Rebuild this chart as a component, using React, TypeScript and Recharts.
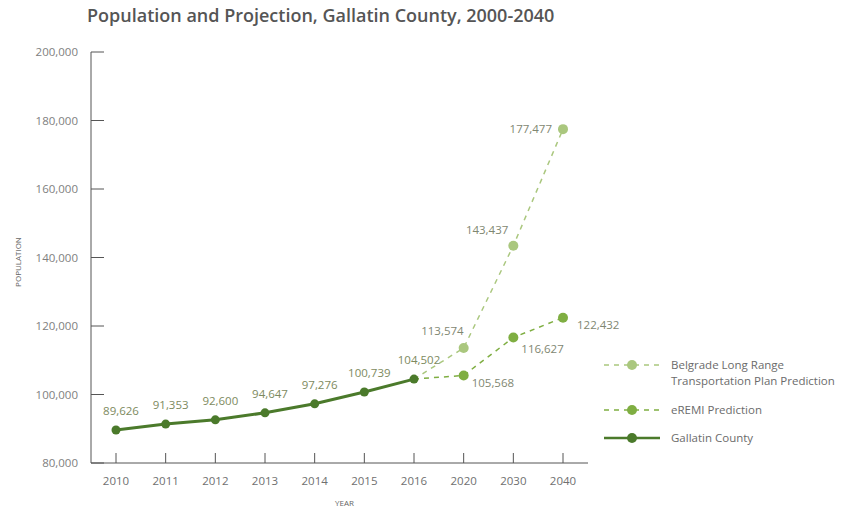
import { LineChart, Line, XAxis, YAxis, LabelList } from "recharts";

const years = ["2010", "2011", "2012", "2013", "2014", "2015", "2016", "2020", "2030", "2040"];
const gallatin = [89626, 91353, 92600, 94647, 97276, 100739, 104502, null, null, null];
const eremi = [null, null, null, null, null, null, 104502, 105568, 116627, 122432];
const belgrade = [null, null, null, null, null, null, 104502, 113574, 143437, 177477];
const yTicks = [80000, 100000, 120000, 140000, 160000, 180000, 200000];

const FONT = "'Open Sans', sans-serif";
const DARK = "#4b7a2b";
const MID = "#7fae42";
const LIGHT = "#aac77e";

const data = years.map((year, i) => ({
  year,
  gallatin: gallatin[i],
  eremi: eremi[i],
  belgrade: belgrade[i],
}));

const fmt = (v: number) => v.toLocaleString("en-US");

// label offsets per point [dx, dy, anchor]
const belgradeLabelPos: Record<number, [number, number, string]> = {
  7: [0, -13, "end"],
  8: [-5, -12, "end"],
  9: [-11, 4, "end"],
};
const eremiLabelPos: Record<number, [number, number, string]> = {
  7: [8, 12, "start"],
  8: [8, 15, "start"],
  9: [14, 11, "start"],
};

const makeLabel = (pos: Record<number, [number, number, string]> | null, color: string) => (props: any) => {
  const { x, y, value, index } = props;
  if (value == null) return null;
  let dx = 5;
  let dy = -15;
  let anchor = "middle";
  if (pos) {
    const p = pos[index];
    if (!p) return null;
    [dx, dy, anchor] = p;
  }
  return (
    <text x={x + dx} y={y + dy} textAnchor={anchor} fontSize={11.5} fontFamily={FONT} fill={color}>
      {fmt(value)}
    </text>
  );
};

const makeDot = (color: string, r: number, skip: number[]) => (props: any) => {
  const { cx, cy, index, value } = props;
  if (value == null || cy == null || skip.includes(index)) return <g key={index} />;
  return <circle key={index} cx={cx} cy={cy} r={r} fill={color} stroke="none" />;
};

const legendItems = [
  { lines: ["Belgrade Long Range", "Transportation Plan Prediction"], color: LIGHT, dashed: true, y: 365 },
  { lines: ["eREMI Prediction"], color: MID, dashed: true, y: 410 },
  { lines: ["Gallatin County"], color: DARK, dashed: false, y: 438 },
];

function ChartLegend() {
  return (
    <svg width={248} height={110} style={{ position: "absolute", left: 600, top: 352 }}>
      {legendItems.map((it, i) => {
        const cy = it.y - 352;
        return (
          <g key={i}>
            <line
              x1={4}
              x2={60}
              y1={cy}
              y2={cy}
              stroke={it.color}
              strokeWidth={it.dashed ? 1.5 : 2.5}
              strokeDasharray={it.dashed ? "5 5" : undefined}
            />
            <circle cx={32} cy={cy} r={5} fill={it.color} />
            {it.lines.map((t, j) => (
              <text key={j} x={71} y={cy + 4 + j * 16} fontSize={11.5} fontFamily={FONT} fill="#6b6b6b">
                {t}
              </text>
            ))}
          </g>
        );
      })}
    </svg>
  );
}

export default function App() {
  return (
    <div style={{ position: "absolute", left: 0, top: 0, width: 848, height: 513, background: "#fff" }}>
      <div
        style={{
          position: "absolute",
          left: 87,
          top: 3,
          fontFamily: FONT,
          fontWeight: 600,
          fontSize: 18,
          color: "#555",
          whiteSpace: "nowrap",
        }}
      >
        Population and Projection, Gallatin County, 2000-2040
      </div>
      <LineChart width={848} height={513} data={data} margin={{ top: 52, right: 260, left: 11, bottom: 20 }}>
        <XAxis
          dataKey="year"
          height={30}
          padding={{ left: 25, right: 25 }}
          stroke="#555"
          tickSize={-10}
          tickMargin={24}
          tick={{ fontSize: 11.5, fontFamily: FONT, fill: "#707070" }}
          label={{
            value: "YEAR",
            position: "bottom",
            offset: 7,
            dx: 5,
            style: { fontSize: 8, fontFamily: FONT, fill: "#666" },
          }}
        />
        <YAxis
          width={80}
          domain={[80000, 200000]}
          ticks={yTicks}
          stroke="#555"
          tickSize={-13}
          tickMargin={26}
          tickFormatter={fmt}
          tick={{ fontSize: 11.5, fontFamily: FONT, fill: "#808080" }}
          label={{
            value: "POPULATION",
            content: (p: any) => {
              const vb = p.viewBox;
              const cx = vb.x + 10;
              const cy = 262;
              return (
                <text
                  x={cx}
                  y={cy}
                  transform={`rotate(-90 ${cx} ${cy})`}
                  textAnchor="middle"
                  fontSize={8}
                  fontFamily={FONT}
                  fill="#666"
                >
                  POPULATION
                </text>
              );
            },
          }}
        />
        <Line
          dataKey="belgrade"
          name="Belgrade Long Range Transportation Plan Prediction"
          stroke={LIGHT}
          strokeWidth={1.5}
          strokeDasharray="5 5"
          dot={makeDot(LIGHT, 5, [6])}
          isAnimationActive={false}
        >
          <LabelList dataKey="belgrade" content={makeLabel(belgradeLabelPos, "#7f8772")} />
        </Line>
        <Line
          dataKey="eremi"
          name="eREMI Prediction"
          stroke={MID}
          strokeWidth={1.5}
          strokeDasharray="5 5"
          dot={makeDot(MID, 5, [6])}
          isAnimationActive={false}
        >
          <LabelList dataKey="eremi" content={makeLabel(eremiLabelPos, "#7f8772")} />
        </Line>
        <Line
          dataKey="gallatin"
          name="Gallatin County"
          stroke={DARK}
          strokeWidth={3}
          dot={makeDot(DARK, 4.5, [])}
          isAnimationActive={false}
        >
          <LabelList dataKey="gallatin" content={makeLabel(null, "#7d8a5e")} />
        </Line>
      </LineChart>
      <ChartLegend />
    </div>
  );
}
